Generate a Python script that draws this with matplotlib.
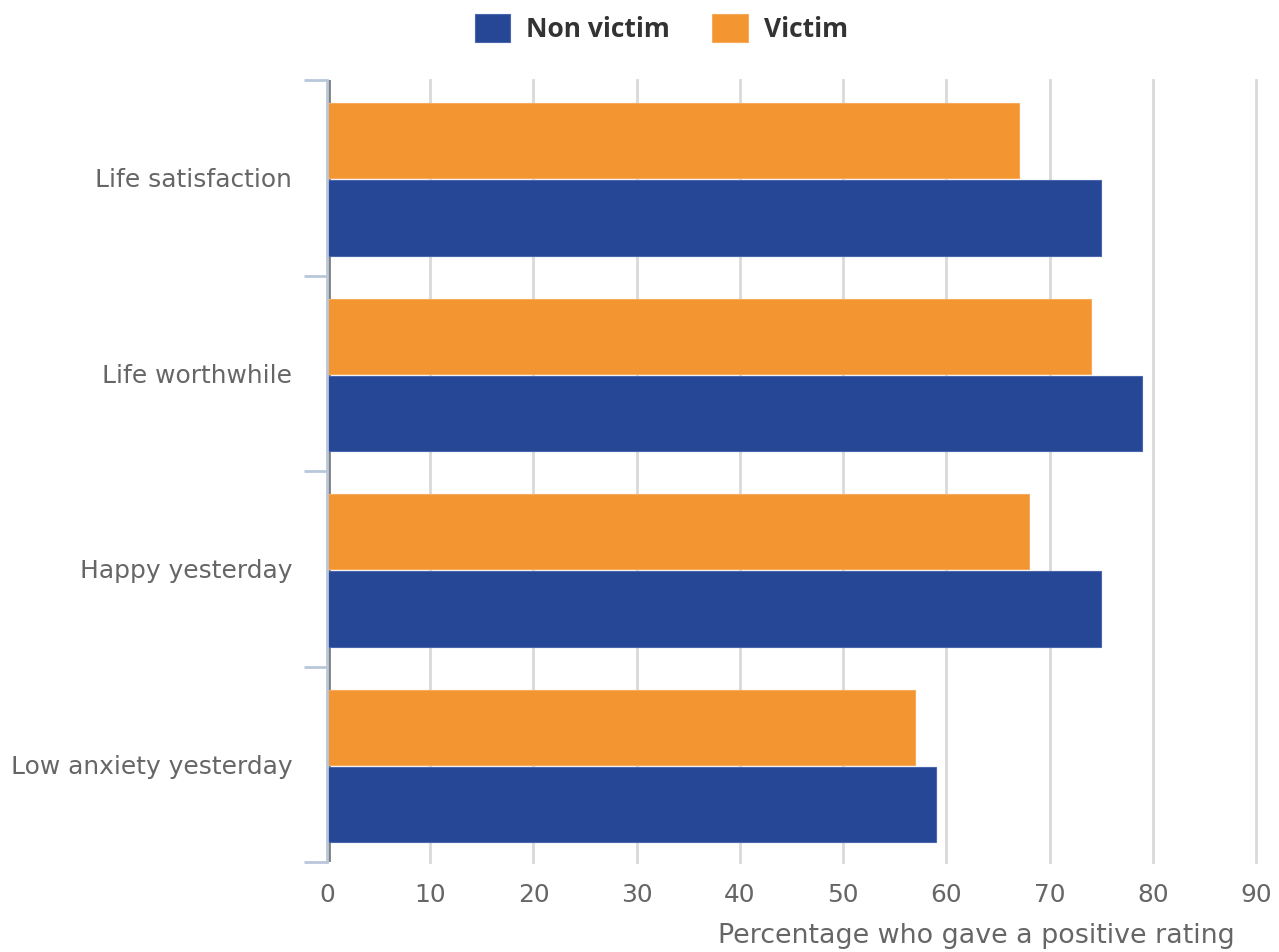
import matplotlib
matplotlib.use('Agg')
import matplotlib.pyplot as plt
import numpy as np

plt.rcParams['font.family'] = ['DejaVu Sans']

# Data
categories = ['Life satisfaction', 'Life worthwhile', 'Happy yesterday', 'Low anxiety yesterday']
non_victim = [75, 79, 75, 59]
victim = [67, 74, 68, 57]
series_names = ['Non victim', 'Victim']
x_ticks = [0, 10, 20, 30, 40, 50, 60, 70, 80, 90]

BLUE = '#264796'
ORANGE = '#F39530'
TEXT_GREY = '#666666'
GRID_GREY = '#d9d9d9'
AXIS_BLUE = '#b8c7da'
FS = 17.9

fig = plt.figure(figsize=(12.79, 9.52), dpi=100)
ax = fig.add_axes([327 / 1279, 1 - 862 / 952, (1256 - 327) / 1279, (862 - 80) / 952])

y = np.arange(len(categories))
h = 0.385
shift = 0.008  # groups sit slightly below the category centre
ax.barh(y + shift + 0.1975, non_victim, height=h, color=BLUE, edgecolor='#4a67ad', linewidth=0.8,
        label=series_names[0], zorder=3)
ax.barh(y + shift - 0.1975, victim, height=h, color=ORANGE, edgecolor='#f7ab5c', linewidth=0.8,
        label=series_names[1], zorder=3)

ax.set_ylim(len(categories) - 0.5, -0.5)
ax.set_xlim(0, 90)
ax.set_xticks(x_ticks)
ax.set_xticklabels([str(t) for t in x_ticks])

# gridlines
for t in x_ticks[1:]:
    ax.axvline(t, color=GRID_GREY, linewidth=2, zorder=1, clip_on=False)
ax.axvline(0.15, color='#7f7f7f', linewidth=2, zorder=1)

# spines
for s in ['top', 'right', 'bottom']:
    ax.spines[s].set_visible(False)
ax.spines['left'].set_color(AXIS_BLUE)
ax.spines['left'].set_linewidth(2)
ax.spines['left'].set_zorder(4)

# y ticks: labels at centres, tick marks at boundaries
ax.set_yticks(y)
ax.set_yticklabels(categories)
ax.set_yticks(np.arange(len(categories) + 1) - 0.5, minor=True)
ax.tick_params(axis='y', which='major', length=0, pad=25, labelsize=FS, labelcolor=TEXT_GREY)
ax.tick_params(axis='y', which='minor', length=16.5, width=2, color=AXIS_BLUE)
ax.tick_params(axis='x', length=0, pad=15, labelsize=FS, labelcolor=TEXT_GREY)

ax.set_xlabel('Percentage who gave a positive rating', fontsize=19.4, color=TEXT_GREY, loc='right')
ax.xaxis.set_label_coords((1235 - 327) / 929, -0.078)

handles, labels = ax.get_legend_handles_labels()
leg = fig.legend(handles, labels, loc='center', bbox_to_anchor=(0.517, 0.970), ncol=2,
                 frameon=False, handlelength=1.35, handleheight=1.25, columnspacing=1.6,
                 handletextpad=0.6,
                 prop={'family': 'Open Sans', 'weight': 'bold', 'size': 19})
for t in leg.get_texts():
    t.set_color('#333333')

fig.savefig('out.png', dpi=100, facecolor='white')
